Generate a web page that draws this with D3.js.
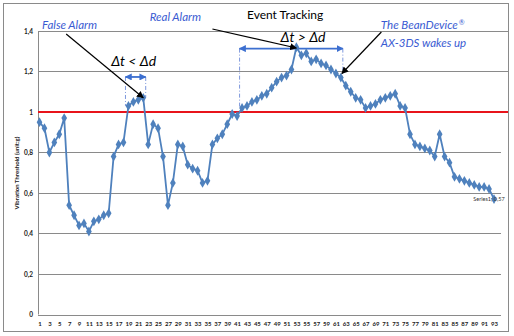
<!DOCTYPE html>
<html>
<head>
<meta charset="utf-8">
<script src="https://cdn.jsdelivr.net/npm/d3@7"></script>
<style>
  body { margin: 0; background: #fff; }
  text { font-family: Lato, "Open Sans", sans-serif; }
</style>
</head>
<body>
<script>
/////////////////////////////////////////////////
// data
/////////////////////////////////////////////////
var categories = d3.range(1, 94);

var values = [0.95, 0.92, 0.80, 0.85, 0.89, 0.97, 0.54, 0.49, 0.44, 0.45,
              0.41, 0.46, 0.47, 0.49, 0.50, 0.78, 0.84, 0.85, 1.03, 1.05,
              1.06, 1.07, 0.84, 0.94, 0.92, 0.78, 0.54, 0.65, 0.84, 0.83,
              0.74, 0.72, 0.71, 0.65, 0.66, 0.84, 0.87, 0.89, 0.94, 0.99,
              0.98, 1.02, 1.03, 1.05, 1.06, 1.08, 1.09, 1.12, 1.15, 1.17,
              1.18, 1.21, 1.32, 1.28, 1.29, 1.25, 1.26, 1.24, 1.23, 1.21,
              1.19, 1.17, 1.13, 1.10, 1.07, 1.06, 1.02, 1.03, 1.04, 1.06,
              1.07, 1.08, 1.09, 1.03, 1.02, 0.89, 0.84, 0.83, 0.82, 0.81,
              0.78, 0.89, 0.78, 0.75, 0.68, 0.67, 0.66, 0.65, 0.64, 0.63,
              0.63, 0.62, 0.57];

var yTicks      = [0, 0.2, 0.4, 0.6, 0.8, 1, 1.2, 1.4];
var yTickLabels = ["0", "0,2", "0,4", "0,6", "0,8", "1", "1,2", "1,4"];
var xTicks      = categories.filter(function(d) { return d % 2 === 1; });

var threshold  = 1;
var seriesName = "Series1";
var yTitle     = "Vibration  Threshold (unit:g)";
var title      = "Event Tracking";

// annotations, in [category, value] units
var blackArrows = [
  { from: [6.4, 1.385], to: [22.0, 1.07] },    // False Alarm
  { from: [36.0, 1.41], to: [53.0, 1.316] },   // Real Alarm
  { from: [70.2, 1.395], to: [62.2, 1.19] }    // BeanDevice wakes up
];
var spans = [
  { x0: 18.4, x1: 22.5, y: 1.173, d0: 1.03, d1: 1.07 },
  { x0: 41.5, x1: 62.4, y: 1.313, d0: 1.02, d1: 1.19 }
];
var labels = [
  { x: 1.5,  y: 1.41,  text: "False Alarm",     sup: "", cls: "blue" },
  { x: 23.3, y: 1.45,  text: "Real Alarm",      sup: "", cls: "blue" },
  { x: 43.0, y: 1.46,  text: title,             sup: "", cls: "title" },
  { x: 70.1, y: 1.41,  text: "The BeanDevice",  sup: "\u00ae", cls: "blue" },
  { x: 70.1, y: 1.32,  text: "AX-3DS wakes up", sup: "", cls: "blue" },
  { x: 15.5, y: 1.227, text: "\u0394t < \u0394d", sup: "", cls: "delta" },
  { x: 49.8, y: 1.345, text: "\u0394t > \u0394d", sup: "", cls: "delta" }
];

/////////////////////////////////////////////////
// locals
/////////////////////////////////////////////////
var width  = 514,
    height = 336;

var plotLeft   = 38,
    plotRight  = 501,
    plotTop    = 31,
    plotBottom = 314.5;

var lineColor = "#4F81BD",
    gridColor = "#8a8a8a",
    textBlue  = "#3a5bd2",
    arrowBlue = "#3c6fd0";

var x = d3.scaleLinear().domain([1, 93]).range([39.5, 494]);
var y = d3.scaleLinear().domain([0, 1.4]).range([plotBottom, plotTop]);

var svg = d3.select("body")
    .append("svg")
    .attr("width", width)
    .attr("height", height);

var defs = svg.append("defs");
defs.append("marker")
    .attr("id", "headBlack")
    .attr("viewBox", "0 0 10 10")
    .attr("refX", 9).attr("refY", 5)
    .attr("markerWidth", 7).attr("markerHeight", 7)
    .attr("markerUnits", "userSpaceOnUse")
    .attr("orient", "auto")
  .append("path")
    .attr("d", "M0,0L10,5L0,10z")
    .attr("fill", "#000");
defs.append("marker")
    .attr("id", "headBlue")
    .attr("viewBox", "0 0 10 10")
    .attr("refX", 9).attr("refY", 5)
    .attr("markerWidth", 7).attr("markerHeight", 7)
    .attr("markerUnits", "userSpaceOnUse")
    .attr("orient", "auto-start-reverse")
  .append("path")
    .attr("d", "M0,0L10,5L0,10z")
    .attr("fill", arrowBlue);

// outer frame
svg.append("rect")
    .attr("x", 3.5).attr("y", 3.5)
    .attr("width", 505).attr("height", 328)
    .attr("fill", "#fff")
    .attr("stroke", gridColor);

/////////////////////////////////////////////////
// grid + axes
/////////////////////////////////////////////////
svg.selectAll("line.grid")
    .data(yTicks.filter(function(d) { return d > 0; }))
  .enter().append("line")
    .attr("class", "grid")
    .attr("x1", plotLeft)
    .attr("x2", function(d) { return d > 1.1 ? 508 : plotRight; })
    .attr("y1", function(d) { return Math.round(y(d)) + 0.5; })
    .attr("y2", function(d) { return Math.round(y(d)) + 0.5; })
    .attr("stroke", gridColor);

var yAxis = svg.append("g")
    .attr("transform", "translate(" + plotLeft + ",0)")
    .call(d3.axisLeft(y).tickValues(yTicks).tickSize(0).tickPadding(5)
      .tickFormat(function(d, i) { return yTickLabels[i]; }));
yAxis.select(".domain").attr("stroke", gridColor)
    .attr("d", "M0.5," + plotTop + "V" + plotBottom);
yAxis.selectAll("text")
    .attr("font-size", "6.5px")
    .attr("font-family", "Lato, sans-serif")
    .attr("font-weight", "bold")
    .attr("fill", "#222");

var xAxis = svg.append("g")
    .attr("transform", "translate(0," + (Math.round(plotBottom) + 0.5) + ")")
    .call(d3.axisBottom(x).tickValues(xTicks).tickSize(0).tickPadding(6)
      .tickFormat(d3.format("d")));
xAxis.select(".domain").attr("stroke", gridColor)
    .attr("d", "M" + plotLeft + ",0H" + plotRight);
xAxis.selectAll("text")
    .attr("font-size", "6px")
    .attr("font-family", "Lato, sans-serif")
    .attr("font-weight", "bold")
    .attr("fill", "#222");

svg.append("text")
    .attr("transform", "translate(17," + 173 + ") rotate(-90)")
    .attr("text-anchor", "middle")
    .attr("dy", ".35em")
    .attr("font-size", "6px")
    .attr("font-weight", "bold")
    .attr("fill", "#222")
    .text(yTitle);

/////////////////////////////////////////////////
// threshold
/////////////////////////////////////////////////
svg.append("line")
    .attr("x1", plotLeft).attr("x2", 508)
    .attr("y1", y(threshold)).attr("y2", y(threshold))
    .attr("stroke", "#e8141b")
    .attr("stroke-width", 2);

/////////////////////////////////////////////////
// span markers (dash-dot verticals + double arrows)
/////////////////////////////////////////////////
spans.forEach(function(s) {
  svg.append("line")
    .attr("x1", x(s.x0)).attr("x2", x(s.x0))
    .attr("y1", y(s.y)).attr("y2", y(s.d0))
    .attr("stroke", "#7d97dc").attr("stroke-width", 1)
    .attr("stroke-dasharray", "4,2,1,2");
  svg.append("line")
    .attr("x1", x(s.x1)).attr("x2", x(s.x1))
    .attr("y1", y(s.y)).attr("y2", y(s.d1))
    .attr("stroke", "#7d97dc").attr("stroke-width", 1)
    .attr("stroke-dasharray", "4,2,1,2");
  svg.append("line")
    .attr("x1", x(s.x0)).attr("x2", x(s.x1))
    .attr("y1", y(s.y)).attr("y2", y(s.y))
    .attr("stroke", arrowBlue).attr("stroke-width", 1.8)
    .attr("marker-start", "url(#headBlue)")
    .attr("marker-end", "url(#headBlue)");
});

/////////////////////////////////////////////////
// series line + markers
/////////////////////////////////////////////////
var line = d3.line()
    .x(function(d, i) { return x(categories[i]); })
    .y(function(d) { return y(d); });

svg.append("path")
    .datum(values)
    .attr("d", line)
    .attr("fill", "none")
    .attr("stroke", lineColor)
    .attr("stroke-width", 1.8);

svg.selectAll("path.pt")
    .data(values)
  .enter().append("path")
    .attr("class", "pt")
    .attr("d", d3.symbol().type(d3.symbolDiamond).size(28))
    .attr("transform", function(d, i) {
      return "translate(" + x(categories[i]) + "," + y(d) + ")";
    })
    .attr("fill", lineColor);

// data label on the last point
var last = values.length - 1;
svg.append("text")
    .attr("x", x(categories[last]) - 5)
    .attr("y", y(values[last]))
    .attr("dy", ".35em")
    .attr("text-anchor", "middle")
    .attr("font-size", "5.5px")
    .attr("fill", "#333")
    .text(seriesName + "; " + d3.format(".2f")(values[last]).replace(".", ","));

/////////////////////////////////////////////////
// annotations
/////////////////////////////////////////////////
svg.selectAll("line.callout")
    .data(blackArrows)
  .enter().append("line")
    .attr("class", "callout")
    .attr("x1", function(d) { return x(d.from[0]); })
    .attr("y1", function(d) { return y(d.from[1]); })
    .attr("x2", function(d) { return x(d.to[0]); })
    .attr("y2", function(d) { return y(d.to[1]); })
    .attr("stroke", "#000")
    .attr("stroke-width", 1.2)
    .attr("marker-end", "url(#headBlack)");

var notes = svg.selectAll("text.note")
    .data(labels)
  .enter().append("text")
    .attr("class", "note")
    .attr("x", function(d) { return x(d.x); })
    .attr("y", function(d) { return y(d.y); })
    .attr("font-size", function(d) {
      return d.cls === "delta" ? "14px" : d.cls === "title" ? "12px" : "11.5px";
    })
    .attr("font-style", function(d) { return d.cls === "title" ? "normal" : "italic"; })
    .attr("fill", function(d) { return d.cls === "blue" ? textBlue : "#000"; })
    .text(function(d) { return d.text; });

notes.filter(function(d) { return d.sup; })
  .append("tspan")
    .attr("dx", 1)
    .attr("dy", -4)
    .attr("font-size", "7px")
    .text(function(d) { return d.sup; });
</script>
</body>
</html>
